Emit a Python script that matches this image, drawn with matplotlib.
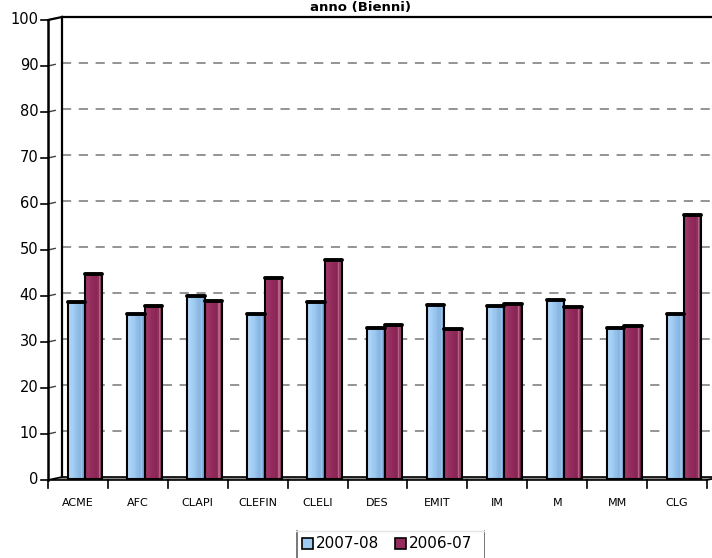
import numpy as np
import matplotlib
matplotlib.use("Agg")
import matplotlib.pyplot as plt
import matplotlib.transforms as mtransforms
from matplotlib.colors import LinearSegmentedColormap

categories = ["ACME", "AFC", "CLAPI", "CLEFIN", "CLELI", "DES", "EMIT", "IM", "M", "MM", "CLG"]
vals_0708 = [38.4, 35.7, 39.6, 35.7, 38.4, 32.8, 37.7, 37.5, 38.8, 32.8, 35.7]
vals_0607 = [44.5, 37.6, 38.6, 43.5, 47.4, 33.4, 32.4, 38.0, 37.2, 33.1, 57.2]
series_labels = ["2007-08", "2006-07"]
yticks = list(range(0, 101, 10))

W, H = 712, 558
fig = plt.figure(figsize=(W / 100, H / 100), dpi=100)

# front plane of the 3d box, in pixels
x0, x1 = 48, 707
y0, y1 = 480, 20
ax = fig.add_axes([x0 / W, (H - y0) / H, (x1 - x0) / W, (y0 - y1) / H])
n = len(categories)
ax.set_xlim(0, n)
ax.set_ylim(0, 100)
ax.axis("off")

# depth offsets (pixels): back wall and middle of the bar row
back = mtransforms.offset_copy(ax.transData, fig, x=14, y=3, units="dots")
mid = mtransforms.offset_copy(ax.transData, fig, x=7, y=1.5, units="dots")

# back wall gridlines
for v in yticks[1:-1]:
    ax.plot([0, n + 0.1], [v, v], transform=back, color="#767676", lw=1.1,
            ls=(0, (6, 5)), clip_on=False, zorder=1)
ax.plot([0, n + 0.1], [100, 100], transform=back, color="black", lw=1.6, clip_on=False, zorder=2)
ax.plot([0, 0], [0, 100], transform=back, color="black", lw=1.6, clip_on=False, zorder=2)

# side wall stubs joining front ticks to the back wall
for v in yticks[1:]:
    ax.plot([0, 0.12], [v, v + 0.35], color="#404040", lw=1.0, clip_on=False, zorder=2)
ax.plot([0, 0], [0, 100], color="black", lw=1.8, clip_on=False, zorder=6)
ax.plot([0, 14 / 59.9], [100, 100 + 3 / 4.6], color="black", lw=1.6, clip_on=False, zorder=6)

# floor
fx = [0, n, n + 14 / 59.9, 14 / 59.9]
fy = [0, 0, 3 / 4.6, 3 / 4.6]
ax.fill(fx, fy, facecolor="#8a8a8a", edgecolor="black", lw=1.2, clip_on=False, zorder=3)

# y ticks and labels on the front axis
for v in yticks:
    ax.plot([-0.12, 0], [v, v], color="black", lw=1.2, clip_on=False, zorder=6)
    ax.text(-0.16, v, str(v), ha="right", va="center", fontsize=10.5,
            family="DejaVu Sans", clip_on=False)

# category ticks and labels
for i in range(n + 1):
    ax.plot([i, i], [0, -1.8], color="black", lw=1.2, clip_on=False, zorder=6)
for i, c in enumerate(categories):
    ax.text(i + 0.5, -5.0, c, ha="center", va="center", fontsize=8,
            family="DejaVu Sans", clip_on=False)

blue_cmap = LinearSegmentedColormap.from_list(
    "b", [(0, "#b2d8fa"), (0.35, "#9fcbf2"), (0.75, "#86b3e0"), (0.85, "#9cc4ec"), (1, "#6f9bcb")])
red_cmap = LinearSegmentedColormap.from_list(
    "r", [(0, "#a33a6c"), (0.35, "#952c5e"), (0.75, "#862552"), (0.85, "#b8628a"), (1, "#6a1c42")])

bw = 0.29
strips = 14


def draw_cylinder(xc, v, cmap):
    left = xc - bw / 2
    sw = bw / strips
    for k in range(strips):
        ax.bar(left + k * sw, v, width=sw * 1.05, align="edge", color=cmap(k / (strips - 1)),
               lw=0, transform=mid, zorder=4)
    ax.bar(xc, v, width=bw, fill=False, edgecolor="black", lw=1.5, transform=mid, zorder=5)
    ax.plot([left, left + bw], [v, v], color="black", lw=2.8, solid_capstyle="round",
            transform=mid, zorder=5)


for i in range(n):
    draw_cylinder(i + 0.5 - bw / 2, vals_0708[i], blue_cmap)
    draw_cylinder(i + 0.5 + bw / 2, vals_0607[i], red_cmap)

# title
fig.text(360 / W, (H - 8) / H, "anno (Bienni)", ha="center", va="center",
         fontsize=9.5, fontweight="bold", family="DejaVu Sans")

# legend
lax = fig.add_axes([296 / W, 0, (485 - 296) / W, 30 / H])
lax.set_xlim(296, 485)
lax.set_ylim(30, 0)
lax.axis("off")
lax.plot([296.5, 296.5], [3, 30], color="#606060", lw=1.2)
lax.plot([484.5, 484.5], [3, 30], color="#606060", lw=1.2)
lax.plot([296, 485], [3, 3], color="#e4e4e4", lw=1.0)
for sx, lab, col in [(302, series_labels[0], "#9fcbf2"), (395, series_labels[1], "#952c5e")]:
    lax.add_patch(plt.Rectangle((sx, 10), 11, 11, facecolor=col, edgecolor="black", lw=1.2))
    lax.text(sx + 14, 15.5, lab, ha="left", va="center", fontsize=11, family="DejaVu Sans")

fig.savefig("out.png", dpi=100)
